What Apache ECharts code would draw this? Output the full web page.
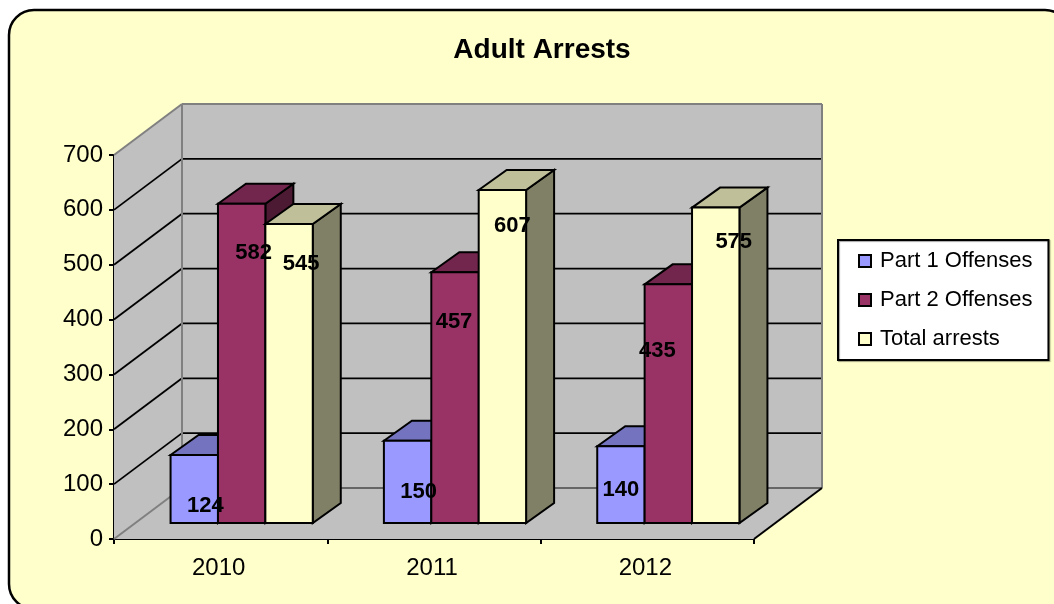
<!DOCTYPE html>
<html><head><meta charset="utf-8">
<style>html,body{margin:0;padding:0;background:#fff}#c{width:1054px;height:604px}</style>
<script src="https://cdn.jsdelivr.net/npm/echarts@6/dist/echarts.min.js"></script>
</head><body><div id="c"></div>
<script>
const categories = ['2010', '2011', '2012'];
const part1 = [124, 150, 140];
const part2 = [582, 457, 435];
const totalArrests = [545, 607, 575];
const yTicks = [0, 100, 200, 300, 400, 500, 600, 700];

const WALL_DX = 68, WALL_DY = -51;
const BAR_FRONT_DX = 21, BAR_FRONT_DY = -16;
const BAR_DX = 28, BAR_DY = -20;
const BAR_W = 47.4;
const FONT = '"Liberation Sans", Arial, sans-serif';
// hand placement of the value labels, relative to the bar's top centre
const labelNudge = [
  [[11, 51], [12, 49], [12, 40]],
  [[11, 51], [-1, 50], [10, 36]],
  [[0, 44], [-11, 67], [18, 34]]
];

function poly(pts, fill, stroke, lw) {
  return {type: 'polygon', shape: {points: pts},
    style: {fill: fill, stroke: stroke || null, lineWidth: lw || 0, lineJoin: 'miter'}};
}
function line(a, b, stroke, lw) {
  return {type: 'line', shape: {x1: a[0], y1: a[1], x2: b[0], y2: b[1]},
    style: {stroke: stroke, lineWidth: lw}};
}
function renderWalls(params, api) {
  const cs = params.coordSys;
  const L = cs.x, R = cs.x + cs.width;
  const y0 = api.coord([0, 0])[1], yT = api.coord([0, 700])[1];
  const gray = '#808080', wallFill = '#C0C0C0';
  const ch = [
    poly([[L, yT], [L + WALL_DX, yT + WALL_DY], [L + WALL_DX, y0 + WALL_DY], [L, y0]], wallFill),
    poly([[L + WALL_DX, yT + WALL_DY], [R + WALL_DX, yT + WALL_DY], [R + WALL_DX, y0 + WALL_DY], [L + WALL_DX, y0 + WALL_DY]], wallFill),
    poly([[L, y0], [L + WALL_DX, y0 + WALL_DY], [R + WALL_DX, y0 + WALL_DY], [R, y0]], wallFill)
  ];
  yTicks.forEach(v => {
    if (v === 0 || v === 700) return;
    const y = api.coord([0, v])[1];
    ch.push(line([L, y], [L + WALL_DX, y + WALL_DY], '#000', 1.8));
    ch.push(line([L + WALL_DX, y + WALL_DY], [R + WALL_DX, y + WALL_DY], '#000', 1.8));
  });
  ch.push(line([L, yT], [L + WALL_DX, yT + WALL_DY], gray, 2));
  ch.push(line([L + WALL_DX, yT + WALL_DY], [R + WALL_DX, yT + WALL_DY], gray, 2));
  ch.push(line([L + WALL_DX, yT + WALL_DY], [L + WALL_DX, y0 + WALL_DY], gray, 2));
  ch.push(line([R + WALL_DX, yT + WALL_DY], [R + WALL_DX, y0 + WALL_DY], gray, 2));
  ch.push(line([L, y0], [L + WALL_DX, y0 + WALL_DY], gray, 2));
  ch.push(line([L + WALL_DX, y0 + WALL_DY], [R + WALL_DX, y0 + WALL_DY], '#666', 2));
  ch.push(line([R, y0], [R + WALL_DX, y0 + WALL_DY], '#000', 2));
  return {type: 'group', children: ch};
}
function barRenderer(idx, colors) {
  return function (params, api) {
    const c = api.coord([api.value(0), api.value(1)]);
    const b = api.coord([api.value(0), 0]);
    const x0 = c[0] + BAR_FRONT_DX + (idx - 1.5) * BAR_W;
    const x1 = x0 + BAR_W;
    const yt = c[1] + BAR_FRONT_DY, yb = b[1] + BAR_FRONT_DY;
    const k = '#000', w = 2;
    return {type: 'group', children: [
      poly([[x1, yt], [x1 + BAR_DX, yt + BAR_DY], [x1 + BAR_DX, yb + BAR_DY], [x1, yb]], colors[2], k, w),
      poly([[x0, yt], [x0 + BAR_DX, yt + BAR_DY], [x1 + BAR_DX, yt + BAR_DY], [x1, yt]], colors[1], k, w),
      poly([[x0, yt], [x1, yt], [x1, yb], [x0, yb]], colors[0], k, w)
    ]};
  };
}
function renderLabel(params, api) {
  const cat = api.value(0), val = api.value(1), s = api.value(2);
  const c = api.coord([cat, val]);
  const n = labelNudge[cat][s];
  const x = c[0] + BAR_FRONT_DX + (s - 1) * BAR_W + n[0];
  const y = c[1] + BAR_FRONT_DY + n[1];
  return {type: 'text', style: {x: x, y: y, text: String(val), fill: '#000',
    font: 'bold 22px ' + FONT, align: 'center', verticalAlign: 'middle'}};
}
function barSeries(name, values, idx, colors) {
  return {
    name: name, type: 'custom', z: 3, silent: true,
    renderItem: barRenderer(idx, colors),
    itemStyle: {color: colors[0], borderColor: '#000', borderWidth: 2},
    encode: {x: 0, y: 1},
    data: values.map((v, i) => [i, v])
  };
}
const labelRows = [];
[part1, part2, totalArrests].forEach((vals, s) => vals.forEach((v, i) => labelRows.push([i, v, s])));

const chart = echarts.init(document.getElementById('c'), null, {renderer: 'canvas'});
chart.setOption({
  animation: false,
  backgroundColor: '#fff',
  title: {text: 'Adult Arrests', left: 537, top: 31, textAlign: 'center',
    textStyle: {fontFamily: FONT, fontWeight: 'bold', fontSize: 28, color: '#000'}},
  graphic: [{type: 'rect', z: -10, silent: true,
    shape: {x: 9, y: 10, width: 1061, height: 599, r: 25},
    style: {fill: '#FFFFCC', stroke: '#000', lineWidth: 2.5}}],
  grid: {left: 114, right: 300, top: 155, bottom: 65, containLabel: false},
  legend: {
    data: ['Part 1 Offenses', 'Part 2 Offenses', 'Total arrests'],
    orient: 'vertical', left: 838, top: 240, align: 'left',
    padding: [10, 16, 10, 20], itemGap: 17, itemWidth: 12, itemHeight: 12, icon: 'rect',
    backgroundColor: '#fff', borderColor: '#000', borderWidth: 2,
    shadowColor: 'rgba(0,0,0,0.35)', shadowOffsetX: 1, shadowOffsetY: 1, shadowBlur: 1,
    textStyle: {fontFamily: FONT, fontSize: 22, color: '#000', padding: [0, 0, 0, 4]}
  },
  xAxis: {type: 'category', data: categories,
    axisLine: {show: true, lineStyle: {color: '#000', width: 2}},
    axisTick: {show: true, length: 5, lineStyle: {color: '#000', width: 2}},
    axisLabel: {color: '#000', fontFamily: FONT, fontSize: 24, margin: 17, padding: [0, 4, 0, 0]},
    splitLine: {show: false}},
  yAxis: {type: 'value', min: 0, max: 700, interval: 100,
    axisLine: {show: true, lineStyle: {color: '#000', width: 2}},
    axisTick: {show: true, length: 5, lineStyle: {color: '#000', width: 2}},
    axisLabel: {color: '#000', fontFamily: FONT, fontSize: 24, margin: 11},
    splitLine: {show: false}},
  series: [
    {name: 'walls', type: 'custom', z: 1, silent: true, renderItem: renderWalls, data: [[0, 0]], encode: {x: 0, y: 1}},
    barSeries('Part 1 Offenses', part1, 0, ['#9999FF', '#7373BF', '#5C5C99']),
    barSeries('Part 2 Offenses', part2, 1, ['#993366', '#73264D', '#4D1A33']),
    barSeries('Total arrests', totalArrests, 2, ['#FFFFCC', '#BFBF99', '#808066']),
    {name: 'labels', type: 'custom', z: 4, silent: true, renderItem: renderLabel,
      encode: {x: 0, y: 1}, data: labelRows}
  ]
});
</script></body></html>
